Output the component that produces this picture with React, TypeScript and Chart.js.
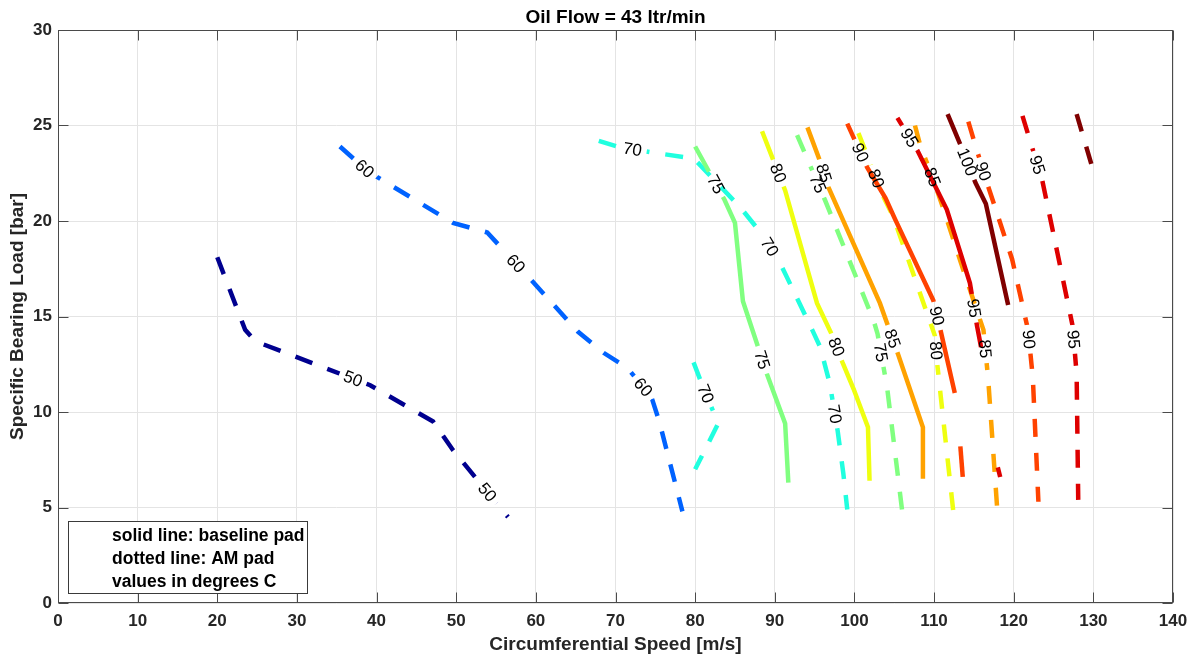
import React, { useEffect, useRef } from "react";
import { Chart, registerables } from "chart.js";

Chart.register(...registerables);

type Pt = [number, number];

// ---------- texts ----------
const chartTitle = "Oil Flow = 43 ltr/min";
const xAxisTitle = "Circumferential Speed [m/s]";
const yAxisTitle = "Specific Bearing Load [bar]";
const noteLines = ["solid line: baseline pad", "dotted line: AM pad", "values in degrees C"];

// ---------- axes ----------
const xRange = [0, 140];
const yRange = [0, 30];
const xStep = 10;
const yStep = 5;

// ---------- contour data (x = speed m/s, y = load bar) ----------
const am50: Pt[] = [[20.0, 18.1], [23.5, 14.3], [24.8, 13.7], [39.2, 11.4], [47.1, 9.5], [49.6, 8.0], [56.5, 4.5]];
const am60: Pt[] = [[35.4, 23.9], [38.9, 22.6], [49.6, 19.9], [53.9, 19.4], [56.1, 18.4], [59.0, 17.1], [65.3, 14.2], [68.5, 13.1], [71.5, 12.3], [74.5, 10.8], [75.5, 9.5], [78.4, 4.8]];
const am70a: Pt[] = [[67.9, 24.2], [70.2, 23.9], [74.4, 23.6], [79.4, 23.3], [80.0, 23.2], [85.7, 20.7], [88.5, 19.25], [90.9, 17.6], [94.7, 14.3], [95.7, 13.4], [96.9, 11.5], [97.9, 9.0], [98.6, 6.8], [99.1, 4.9]];
const am70b: Pt[] = [[79.8, 12.6], [80.9, 11.4], [82.3, 10.0], [82.9, 9.4], [80.0, 7.0]];
const bl75: Pt[] = [[80.0, 23.9], [83.7, 21.1], [85.0, 19.9], [86.0, 15.8], [87.9, 13.4], [89.0, 12.0], [91.3, 9.4], [91.7, 6.3]];
const am75: Pt[] = [[92.8, 24.5], [96.3, 21.1], [102.4, 14.8], [102.9, 14.1], [104.1, 11.3], [106.0, 4.8]];
const bl80: Pt[] = [[88.4, 24.7], [89.8, 23.2], [91.3, 21.6], [95.3, 15.7], [97.0, 14.2], [98.5, 12.6], [99.9, 11.2], [101.7, 9.2], [101.9, 6.4]];
const am80: Pt[] = [[100.5, 24.6], [102.4, 22.6], [103.6, 21.3], [104.9, 20.2], [110.1, 14.0], [110.4, 12.5], [112.4, 4.85]];
const bl85: Pt[] = [[94.1, 24.9], [95.8, 23.0], [96.7, 21.8], [103.2, 15.7], [105.5, 13.0], [108.6, 9.2], [108.6, 6.5]];
const am85: Pt[] = [[107.6, 25.0], [108.3, 23.9], [109.8, 22.3], [111.2, 20.6], [113.3, 17.9], [116.2, 14.3], [116.8, 11.7], [117.9, 5.1]];
const bl90: Pt[] = [[99.1, 25.1], [101.6, 22.8], [103.9, 21.2], [105.1, 20.1], [109.9, 15.85], [110.8, 14.3], [112.6, 11.0]];
const bl90b: Pt[] = [[113.3, 8.2], [113.6, 6.6]];
const am90: Pt[] = [[114.3, 25.2], [115.3, 23.8], [116.8, 21.8], [119.8, 18.0], [121.8, 14.3], [122.4, 11.8], [123.1, 5.3]];
const bl95: Pt[] = [[105.4, 25.4], [107.9, 23.7], [111.6, 20.6], [114.5, 16.75], [115.4, 14.5], [115.9, 13.4]];
const bl95b: Pt[] = [[118.0, 7.1], [118.3, 6.6]];
const am95: Pt[] = [[121.1, 25.5], [122.2, 24.0], [123.6, 22.1], [127.4, 14.5], [127.9, 12.0], [128.1, 5.4]];
const bl100: Pt[] = [[111.7, 25.6], [113.3, 24.0], [115.2, 22.0], [116.5, 20.9], [119.3, 15.6]];
const am100: Pt[] = [[127.9, 25.6], [129.8, 22.9]];

const contours = [
  { id: "bl75", level: 75, am: false, pts: bl75 },
  { id: "bl80", level: 80, am: false, pts: bl80 },
  { id: "bl85", level: 85, am: false, pts: bl85 },
  { id: "bl90", level: 90, am: false, pts: bl90 },
  { id: "bl90b", level: 90, am: false, pts: bl90b },
  { id: "bl95", level: 95, am: false, pts: bl95 },
  { id: "bl95b", level: 95, am: false, pts: bl95b },
  { id: "bl100", level: 100, am: false, pts: bl100 },
  { id: "am50", level: 50, am: true, pts: am50 },
  { id: "am60", level: 60, am: true, pts: am60 },
  { id: "am70a", level: 70, am: true, pts: am70a },
  { id: "am70b", level: 70, am: true, pts: am70b },
  { id: "am75", level: 75, am: true, pts: am75 },
  { id: "am80", level: 80, am: true, pts: am80 },
  { id: "am85", level: 85, am: true, pts: am85 },
  { id: "am90", level: 90, am: true, pts: am90 },
  { id: "am95", level: 95, am: true, pts: am95 },
  { id: "am100", level: 100, am: true, pts: am100 },
];

const levelColors: Record<number, string> = {
  50: "#00008f",
  60: "#0062ff",
  70: "#20ffdf",
  75: "#80ff80",
  80: "#efff10",
  85: "#ffa200",
  90: "#ff4200",
  95: "#de0000",
  100: "#800000",
};

// contour label anchors (data coordinates near the line they belong to)
const contourLabels = [
  { line: "am50", x: 37.0, y: 11.7 },
  { line: "am50", x: 53.9, y: 5.8 },
  { line: "am60", x: 38.2, y: 22.6 },
  { line: "am60", x: 57.3, y: 17.7 },
  { line: "am60", x: 72.9, y: 11.1 },
  { line: "am70a", x: 72.1, y: 23.7 },
  { line: "am70a", x: 89.2, y: 18.6 },
  { line: "am70a", x: 97.6, y: 9.9 },
  { line: "am70b", x: 81.0, y: 10.9 },
  { line: "bl75", x: 82.5, y: 21.9 },
  { line: "bl75", x: 88.2, y: 12.7 },
  { line: "bl80", x: 90.4, y: 22.5 },
  { line: "bl80", x: 97.7, y: 13.4 },
  { line: "am75", x: 95.1, y: 21.9 },
  { line: "am75", x: 103.2, y: 13.1 },
  { line: "bl85", x: 96.1, y: 22.5 },
  { line: "bl85", x: 104.5, y: 13.8 },
  { line: "bl90", x: 100.3, y: 23.5 },
  { line: "bl90", x: 110.1, y: 15.0 },
  { line: "am80", x: 102.6, y: 22.2 },
  { line: "am80", x: 109.9, y: 13.2 },
  { line: "bl95", x: 106.7, y: 24.3 },
  { line: "bl95", x: 114.5, y: 15.4 },
  { line: "am85", x: 109.8, y: 22.3 },
  { line: "am85", x: 116.2, y: 13.3 },
  { line: "bl100", x: 113.6, y: 23.0 },
  { line: "am90", x: 116.2, y: 22.6 },
  { line: "am90", x: 121.8, y: 13.8 },
  { line: "am95", x: 122.7, y: 22.9 },
  { line: "am95", x: 127.4, y: 13.8 },
];

const FONT = "'Liberation Sans', Arial, Helvetica, sans-serif";
const AXIS_COLOR = "#262626";
const FRAME_COLOR = "#4a4a4a";
const LABEL_FONT = `17px ${FONT}`;

function labelGeometry(chart: any, lab: any) {
  const xs = chart.scales.x;
  const ys = chart.scales.y;
  const c = contours.find((k) => k.id === lab.line)!;
  const P = c.pts.map((p) => [xs.getPixelForValue(p[0]), ys.getPixelForValue(p[1])]);
  const qx = xs.getPixelForValue(lab.x);
  const qy = ys.getPixelForValue(lab.y);
  let best: any = { cx: qx, cy: qy, ang: 0 };
  let bd = Infinity;
  for (let i = 0; i < P.length - 1; i++) {
    const [ax, ay] = P[i];
    const [bx, by] = P[i + 1];
    const dx = bx - ax;
    const dy = by - ay;
    const L2 = dx * dx + dy * dy || 1;
    let t = ((qx - ax) * dx + (qy - ay) * dy) / L2;
    t = Math.max(0, Math.min(1, t));
    const cx = ax + t * dx;
    const cy = ay + t * dy;
    const d = (cx - qx) ** 2 + (cy - qy) ** 2;
    if (d < bd) {
      bd = d;
      let ang = Math.atan2(dy, dx);
      if (ang > Math.PI / 2) ang -= Math.PI;
      if (ang < -Math.PI / 2) ang += Math.PI;
      best = { cx, cy, ang };
    }
  }
  return { ...best, text: String(c.level) };
}

const contourPlugin = {
  id: "contourDecor",
  beforeDatasetDraw(chart: any, args: any) {
    const ctx = chart.ctx;
    const ds = chart.data.datasets[args.index];
    ctx.save();
    const mine = contourLabels.filter((l) => l.line === ds.contourId);
    if (!mine.length) return;
    ctx.font = LABEL_FONT;
    ctx.beginPath();
    ctx.rect(0, 0, chart.width, chart.height);
    for (const lab of mine) {
      const g = labelGeometry(chart, lab);
      const hw = ctx.measureText(g.text).width / 2 + 5;
      const hh = 9;
      const cos = Math.cos(g.ang);
      const sin = Math.sin(g.ang);
      const corners = [
        [-hw, -hh],
        [hw, -hh],
        [hw, hh],
        [-hw, hh],
      ].map(([u, v]) => [g.cx + u * cos - v * sin, g.cy + u * sin + v * cos]);
      ctx.moveTo(corners[0][0], corners[0][1]);
      for (let i = 1; i < 4; i++) ctx.lineTo(corners[i][0], corners[i][1]);
      ctx.closePath();
    }
    ctx.clip("evenodd");
  },
  afterDatasetDraw(chart: any) {
    chart.ctx.restore();
  },
  afterDatasetsDraw(chart: any) {
    const ctx = chart.ctx;
    ctx.save();
    ctx.font = LABEL_FONT;
    ctx.fillStyle = "#000";
    ctx.textAlign = "center";
    ctx.textBaseline = "middle";
    for (const lab of contourLabels) {
      const g = labelGeometry(chart, lab);
      ctx.save();
      ctx.translate(g.cx, g.cy);
      ctx.rotate(g.ang);
      ctx.fillText(g.text, 0, 1);
      ctx.restore();
    }
    ctx.restore();
  },
  afterDraw(chart: any) {
    const ctx = chart.ctx;
    const { left, right, top, bottom } = chart.chartArea;
    const xs = chart.scales.x;
    const ys = chart.scales.y;
    ctx.save();
    // frame
    ctx.strokeStyle = FRAME_COLOR;
    ctx.lineWidth = 1;
    const L = Math.round(left) + 0.5;
    const R = Math.round(right) - 0.5;
    const T = Math.round(top) + 0.5;
    const B = Math.round(bottom) - 0.5;
    ctx.strokeRect(L, T, R - L, B - T);
    // inward ticks on all four sides
    ctx.beginPath();
    const tl = 10;
    for (let v = xRange[0]; v <= xRange[1]; v += xStep) {
      const px = Math.round(xs.getPixelForValue(v)) + 0.5;
      ctx.moveTo(px, B);
      ctx.lineTo(px, B - tl);
      ctx.moveTo(px, T);
      ctx.lineTo(px, T + tl);
    }
    for (let v = yRange[0]; v <= yRange[1]; v += yStep) {
      const py = Math.round(ys.getPixelForValue(v)) + 0.5;
      ctx.moveTo(L, py);
      ctx.lineTo(L + tl, py);
      ctx.moveTo(R, py);
      ctx.lineTo(R - tl, py);
    }
    ctx.stroke();

    // title
    ctx.fillStyle = "#000";
    ctx.font = `bold 19px ${FONT}`;
    ctx.textAlign = "center";
    ctx.textBaseline = "alphabetic";
    ctx.fillText(chartTitle, (left + right) / 2, 23);

    // note box
    const bx = 68.5;
    const by = 521.5;
    ctx.fillStyle = "#fff";
    ctx.fillRect(bx, by, 239, 72);
    ctx.strokeStyle = "#3a3a3a";
    ctx.strokeRect(bx, by, 239, 72);
    ctx.fillStyle = "#000";
    ctx.font = `bold 17.5px ${FONT}`;
    ctx.textAlign = "left";
    noteLines.forEach((t, i) => ctx.fillText(t, 112, 541 + i * 23));
    ctx.restore();
  },
};

export default function App() {
  const ref = useRef<HTMLCanvasElement>(null);
  useEffect(() => {
    const canvas = ref.current;
    if (!canvas) return;
    const chart = new Chart(canvas, {
      type: "scatter",
      data: {
        datasets: contours.map((c) => ({
          contourId: c.id,
          label: `${c.am ? "AM pad" : "baseline pad"} ${c.level}`,
          data: c.pts.map(([x, y]) => ({ x, y })),
          showLine: true,
          borderColor: levelColors[c.level],
          backgroundColor: levelColors[c.level],
          borderWidth: 4.5,
          borderDash: c.am ? [18, 16] : [],
          borderCapStyle: "butt",
          borderJoinStyle: "miter",
          pointRadius: 0,
          pointHoverRadius: 0,
          tension: 0,
          fill: false,
        })) as any,
      },
      options: {
        responsive: false,
        animation: false,
        devicePixelRatio: 1,
        layout: { padding: { left: 0, right: 19, top: 30, bottom: 0 } },
        plugins: {
          legend: { display: false },
          tooltip: { enabled: false },
          title: { display: false },
        },
        events: [],
        scales: {
          x: {
            type: "linear",
            position: "bottom",
            min: xRange[0],
            max: xRange[1],
            ticks: {
              stepSize: xStep,
              autoSkip: false,
              maxRotation: 0,
              color: AXIS_COLOR,
              padding: 8.5,
              font: { family: FONT, size: 17, weight: "bold" },
            },
            grid: { color: "#e4e4e4", lineWidth: 1, drawTicks: false },
            border: { display: false },
            title: {
              display: true,
              text: xAxisTitle,
              color: AXIS_COLOR,
              font: { family: FONT, size: 19, weight: "bold" },
              padding: { top: 0, bottom: 2.6 },
            },
            afterFit: (s: any) => {
              s.height = 56;
              s.paddingLeft = 0;
              s.paddingRight = 0;
            },
          },
          y: {
            type: "linear",
            position: "left",
            min: yRange[0],
            max: yRange[1],
            ticks: {
              stepSize: yStep,
              color: AXIS_COLOR,
              padding: 6,
              font: { family: FONT, size: 17, weight: "bold" },
            },
            grid: { color: "#e4e4e4", lineWidth: 1, drawTicks: false },
            border: { display: false },
            title: {
              display: true,
              text: yAxisTitle,
              color: AXIS_COLOR,
              font: { family: FONT, size: 19, weight: "bold" },
              padding: { top: 6, bottom: 0 },
            },
            afterFit: (s: any) => {
              s.width = 58;
              s.paddingTop = 0;
              s.paddingBottom = 0;
            },
          },
        },
      } as any,
      plugins: [contourPlugin as any],
    });
    return () => chart.destroy();
  }, []);
  return (
    <div style={{ position: "fixed", left: 0, top: 0, width: 1192, height: 659, background: "#fff" }}>
      <canvas ref={ref} width={1192} height={659} style={{ display: "block", width: 1192, height: 659 }} />
    </div>
  );
}
